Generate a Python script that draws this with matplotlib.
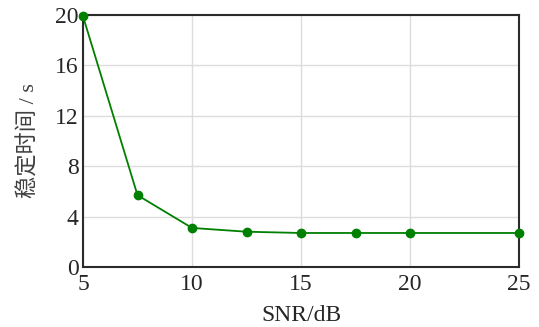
import matplotlib
matplotlib.use("Agg")
import matplotlib.pyplot as plt

# settling time versus SNR
snr = [5, 7.5, 10, 12.5, 15, 17.5, 20, 25]
settle_time = [19.9, 5.7, 3.1, 2.8, 2.7, 2.7, 2.7, 2.7]
x_ticks = [5, 10, 15, 20, 25]
y_ticks = [0, 4, 8, 12, 16, 20]

plt.rcParams['font.family'] = ['Liberation Serif', 'Noto Sans CJK SC']
plt.rcParams['font.size'] = 17

fig = plt.figure(figsize=(5.39, 3.27), dpi=100)
ax = fig.add_axes([83 / 539, 1 - 267 / 327, 436 / 539, 252 / 327])

ax.plot(snr, settle_time, color='#008000', lw=1.3, marker='o', ms=6,
        clip_on=False, zorder=3)

ax.set_xlim(5, 25)
ax.set_ylim(0, 20)
ax.set_xticks(x_ticks)
ax.set_yticks(y_ticks)
ax.grid(True, color='#dcdcdc', lw=1.0)
ax.set_axisbelow(True)
ax.tick_params(axis='x', length=0, pad=5, colors='#262626')
ax.tick_params(axis='y', length=0, pad=3, colors='#262626')
for s in ax.spines.values():
    s.set_color('#2b2b2b')
    s.set_linewidth(1.5)

ax.set_xlabel('SNR/dB', color='#262626', labelpad=7)
ax.set_ylabel('稳定时间 / s', color='#404040', fontsize=16, labelpad=11)

fig.savefig('out.png', dpi=100)
